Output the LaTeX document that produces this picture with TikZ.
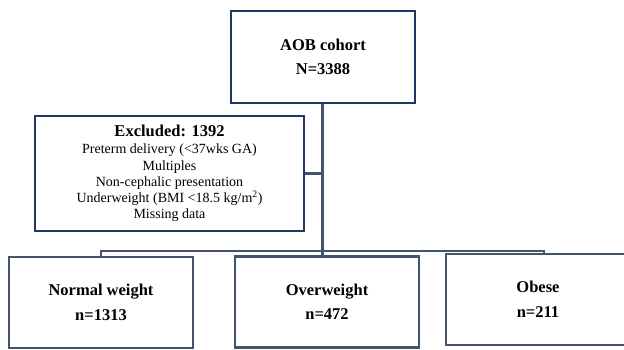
\documentclass[tikz,border=0pt]{standalone}
\usepackage{fontspec}
\setmainfont{Liberation Serif}
\definecolor{navy}{RGB}{31,56,100}
\definecolor{slate}{RGB}{68,84,106}
\begin{document}
\begin{tikzpicture}[x=1pt,y=-1pt,
  topbox/.style={draw=navy,line width=2pt,rectangle,inner sep=0pt,align=center,font=\fontsize{16.5}{24.5}\selectfont\bfseries},
  exbox/.style={draw=navy,line width=2pt,rectangle,inner sep=0pt,align=center,font=\fontsize{14}{16.3}\selectfont},
  grpbox/.style={draw=slate,line width=2.4pt,rectangle,inner sep=0pt,align=center,minimum width=184pt,minimum height=91pt,font=\fontsize{16.5}{24.5}\selectfont\bfseries},
  conn/.style={draw=slate,line width=2.4pt},
  busline/.style={draw=slate,line width=1.6pt}]
\useasboundingbox (0,0) rectangle (624,350);
\node[topbox,minimum width=184pt,minimum height=92pt] (top) at (323,57) {AOB cohort\\N=3388};
\node[exbox,minimum width=269pt,minimum height=115pt] (ex) at (169.5,173.5)
  {{\fontsize{16.5}{18}\selectfont\bfseries Excluded: 1392}\\[1pt]
   Preterm delivery (<37wks GA)\\
   Multiples\\
   Non-cephalic presentation\\
   Underweight (BMI <18.5 kg/m\textsuperscript{2})\\
   Missing data};
\node[grpbox] (nw) at (101,302.5) {Normal weight\\n=1313};
\node[grpbox] (ow) at (327,302) {Overweight\\n=472};
\node[grpbox] (ob) at (538,299.5) {Obese\\n=211};
\coordinate (busL) at (101,251);
\coordinate (busR) at (544,251);
\draw[busline] (nw.north) -- (busL) -- (busR) -- (busR |- ob.north);
\draw[conn] (top.south -| 322.5,0) -- (322.5,256);
\draw[conn] (ex.east) -- (ex.east -| 322.5,0);
\end{tikzpicture}
\end{document}
